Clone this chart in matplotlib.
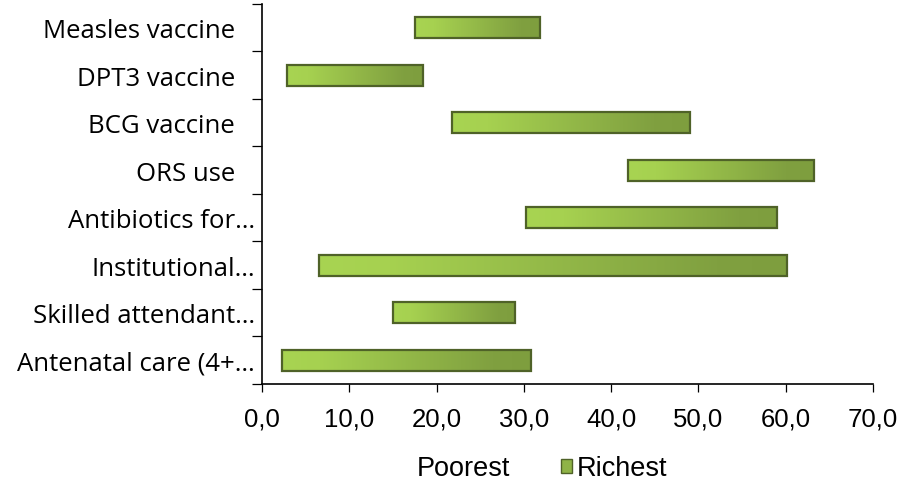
import numpy as np
import matplotlib.pyplot as plt
from matplotlib.colors import LinearSegmentedColormap
from matplotlib.patches import Patch

categories = ['Measles vaccine   ', 'DPT3 vaccine   ', 'BCG vaccine   ', 'ORS use   ',
              'Antibiotics for\u2026', 'Institutional\u2026', 'Skilled attendant\u2026',
              'Antenatal care (4+\u2026']
poorest = [17.5, 2.9, 21.8, 41.9, 30.3, 6.5, 15.0, 2.3]
richest = [31.8, 18.5, 49.0, 63.2, 59.0, 60.2, 29.0, 30.8]
xticks = [0, 10, 20, 30, 40, 50, 60, 70]

poorest = np.array(poorest)
richest = np.array(richest)
y = np.arange(len(categories))

fig = plt.figure(figsize=(9.18, 4.85), dpi=100)
ax = fig.add_axes([0.2854, 0.2062, 0.951 - 0.2854, 0.9897 - 0.2062])

ax.barh(y, poorest, height=0.44, color='none', edgecolor='none', label='Poorest')
bars = ax.barh(y, richest - poorest, left=poorest, height=0.44, color='none',
               edgecolor='#4f6228', linewidth=1.6, label='Richest', zorder=3)

cmap = LinearSegmentedColormap.from_list(
    'g', [(0, '#a8d452'), (0.15, '#a6d150'), (0.85, '#80a040'), (1, '#7e9e3e')])
grad = np.linspace(0, 1, 256).reshape(1, -1)
for p in bars:
    x0, yb = p.get_x(), p.get_y()
    im = ax.imshow(grad, cmap=cmap, aspect='auto', zorder=2,
                   extent=(x0, x0 + p.get_width(), yb + p.get_height(), yb))
    im.set_clip_path(p)

ax.set_xlim(0, 70)
ax.set_ylim(len(categories) - 0.5, -0.5)
ax.set_xticks(xticks)
ax.set_xticklabels(['%d,0' % v for v in xticks], fontsize=18.5, family='Liberation Sans')
ax.set_yticks(y)
ax.set_yticklabels(categories, fontsize=18.5, family='Open Sans')
ax.set_yticks(np.arange(len(categories) + 1) - 0.5, minor=True)
ax.tick_params(axis='y', which='major', length=0, pad=5)
ax.tick_params(axis='y', which='minor', length=7, width=0.9, direction='out')
ax.tick_params(axis='x', length=6, width=0.9, direction='out', pad=10)
for s in ['top', 'right']:
    ax.spines[s].set_visible(False)
for s in ['left', 'bottom']:
    ax.spines[s].set_linewidth(1.2)

handles = [Patch(facecolor='none', edgecolor='none', label='Poorest'),
           Patch(facecolor='#8fb347', edgecolor='#4f6228', label='Richest')]
fig.legend(handles=handles, loc='center', bbox_to_anchor=(0.582, 0.032), ncol=2,
           frameon=False, prop={'family': 'Liberation Sans', 'size': 19.5},
           handlelength=0.4, handleheight=0.4, handletextpad=0.15, columnspacing=1.9)

fig.savefig('out.png', dpi=100)
